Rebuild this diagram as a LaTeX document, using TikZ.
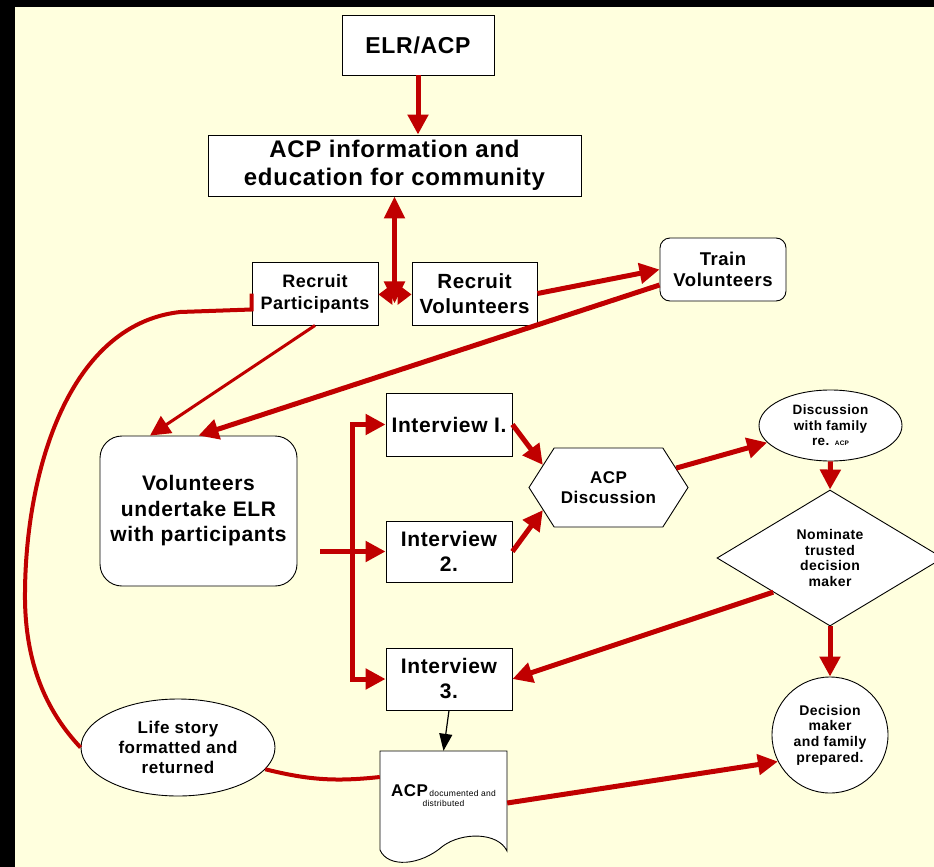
\documentclass[tikz,border=0pt]{standalone}
\usepackage{fontspec}
\setmainfont{Liberation Sans}[LetterSpace=3]
\usetikzlibrary{arrows.meta,shapes.geometric,shapes.symbols,calc}
\definecolor{bgy}{HTML}{FFFFDE}
\definecolor{arr}{HTML}{C00000}
\newcommand{\fs}[2]{\fontsize{#1}{#2}\selectfont}
\begin{document}
\begin{tikzpicture}[x=1pt,y=-1pt,
  box/.style={draw=black, line width=0.9pt, fill=white, align=center, inner sep=1pt},
  rarrow/.style={draw=arr, line width=5pt, -{Triangle[length=20pt,width=20pt]}},
  rarrowthin/.style={draw=arr, line width=3pt, -{Triangle[length=20pt,width=20pt]}},
  rline/.style={draw=arr, line width=4pt},
  barrow/.style={draw=black, line width=1.2pt, -{Triangle[length=17pt,width=13pt]}}
]
\useasboundingbox (0,0) rectangle (934,867);
\fill[black] (0,0) rectangle (934,867);
\fill[bgy] (15,7) rectangle (934,867);

% nodes
\node[box, minimum width=152pt, minimum height=60pt, font=\bfseries\fs{23}{27}] (elr) at (418,45) {ELR/ACP};
\node[box, minimum width=373pt, minimum height=61pt, font=\bfseries\fs{24}{28}] (info) at (394.5,165.5) {ACP information and\\education for community};
\node[box, minimum width=126pt, minimum height=63pt, font=\bfseries\fs{18}{22}] (rp) at (315,293.5) {Recruit\\Participants};
\node[box, minimum width=125pt, minimum height=63pt, font=\bfseries\fs{20.5}{25}] (rv) at (474.5,293.5) {Recruit\\Volunteers};
\node[box, rounded corners=10pt, minimum width=126pt, minimum height=63pt, font=\bfseries\fs{18.5}{21}] (tv) at (723,269.5) {Train\\Volunteers};
\node[box, rounded corners=22pt, minimum width=197pt, minimum height=150pt, font=\bfseries\fs{21}{25.5}] (ve) at (198.5,511) {Volunteers\\undertake ELR\\with participants};
\node[box, minimum width=126pt, minimum height=63pt, font=\bfseries\fs{21}{25}] (i1) at (449,424.5) {Interview I.};
\node[box, minimum width=126pt, minimum height=61pt, font=\bfseries\fs{21}{25}] (i2) at (449,551.5) {Interview\\2.};
\node[box, minimum width=126pt, minimum height=62pt, font=\bfseries\fs{21}{25}] (i3) at (449,679) {Interview\\3.};
\node[box, signal, signal to=west and east, signal pointer angle=115, minimum width=159pt, minimum height=79pt, inner sep=0pt, font=\bfseries\fs{17}{20}] (hex) at (608.5,487.5) {ACP\\Discussion};
\node[box, ellipse, minimum width=143pt, minimum height=71pt, inner sep=0pt, font=\bfseries\fs{13.5}{15.5}] (dwf) at (830.5,425.5) {Discussion\\with family\\re. {\fs{6.5}{8}ACP}};
\node[box, diamond, aspect=1.66, minimum width=226pt, minimum height=136pt, inner sep=0pt, font=\bfseries\fs{14}{15.5}] (dia) at (830,558) {Nominate\\trusted\\decision\\maker};
\node[box, circle, minimum size=116pt, inner sep=0pt, font=\bfseries\fs{14}{15.7}] (circ) at (830,735) {Decision\\maker\\and family\\prepared.};
\node[box, ellipse, minimum width=194pt, minimum height=97pt, inner sep=0pt, font=\bfseries\fs{17}{20}] (life) at (178,747.5) {Life story\\formatted and\\returned};

% document shape
\node[minimum width=127pt, minimum height=100pt, inner sep=0pt] (doc) at (443.5,801) {};
\draw[line width=0.9pt, fill=white] (380,850) -- (380,751) -- (507,751) -- (507,851)
  .. controls (498,832) and (462,832) .. (443,846)
  .. controls (420,866) and (388,868) .. (380,850) -- cycle;
\node[align=center, inner sep=0pt, font=\fs{8.5}{10}] (doctext) at (443.5,796) {{\bfseries\fs{17}{17}ACP}\,documented and\\distributed};

% connectors
\coordinate (hub) at ($(info.south)+(0,98)$);
\coordinate (bus) at ($(i2.west)+(-33,0)$);
\coordinate (vestart) at ($(ve.east |- i2.west)+(23,0)$);

\draw[rarrow] (elr.south) -- (elr.south |- info.north);
\draw[draw=arr, line width=5pt, {Triangle[length=22pt,width=20pt]}-{Triangle[length=22pt,width=20pt]}] (info.south) -- ([yshift=-9pt]hub);
\draw[draw=arr, line width=5pt, {Triangle[length=14pt,width=20pt]}-{Triangle[length=14pt,width=20pt]}] (rp.east |- hub) -- (rv.west |- hub);
\draw[rarrow] (rv.east) -- (tv.west);
\draw[rarrow] ([yshift=-15.5pt]tv.west) -- (ve.north);
\draw[rarrowthin] (rp.south) -- ([xshift=-48.5pt]ve.north);
\draw[rline] (rp.west) -- ++(0,16) -- (180,312)
  .. controls (65,325) and (24,480) .. (25,600)
  .. controls (26,670) and (50,715) .. (life.west);
\draw[draw=arr, line width=5pt] (vestart) -- (bus);
\draw[rarrow] (bus) -- (i2.west);
\draw[rarrow] (bus) |- (i1.west);
\draw[rarrow] (bus) |- (i3.west);
\draw[rarrow] (i1.east) -- (hex.161);
\draw[rarrow] (i2.east) -- (hex.199);
\draw[rarrow] (hex.16) -- (dwf.195);
\draw[rarrow] (dwf.south) -- (dia.north);
\draw[rarrow] (dia.211) -- (i3.east);
\draw[rarrow] (dia.south) -- (circ.north);
\draw[rarrow] ([yshift=-2pt]doc.east) -- (circ.207);
\draw[barrow] (i3.south) -- (doc.north);
\draw[rline] (life.-14) to[bend right=10] ([yshift=24pt]doc.west);
\end{tikzpicture}
\end{document}
